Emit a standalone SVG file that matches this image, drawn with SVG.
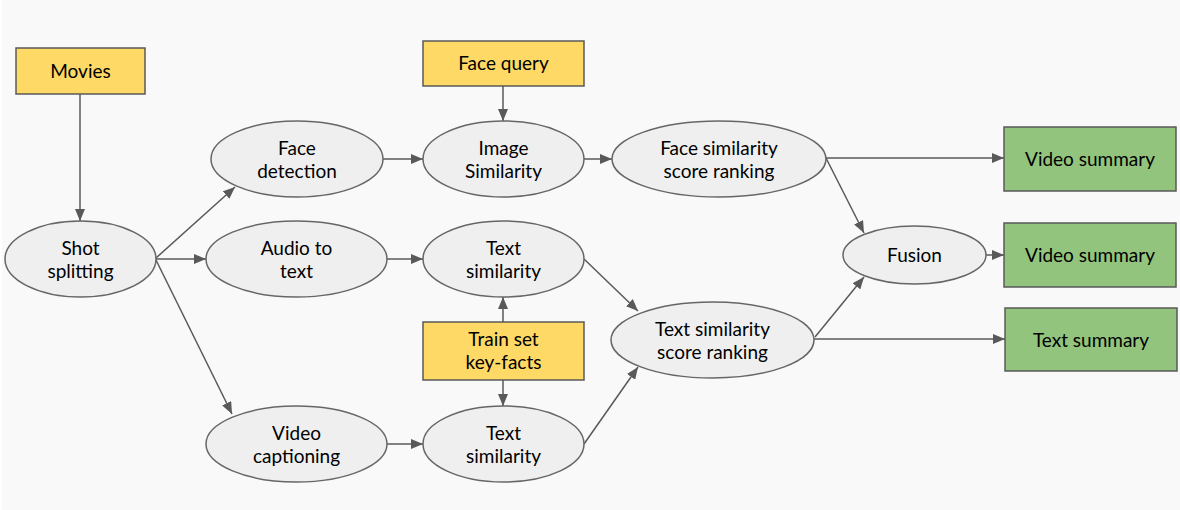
<svg xmlns="http://www.w3.org/2000/svg" width="1180" height="510" viewBox="0 0 1180 510">
  <defs>
    <marker id="arrow" viewBox="0 0 12 10" refX="12" refY="5" markerWidth="12" markerHeight="10" markerUnits="userSpaceOnUse" orient="auto">
      <path d="M0,0 L12,5 L0,10 Z" fill="#595959"/>
    </marker>
    <style>
      .bg { fill: #f9f9f9; }
      .input { fill: #ffd966; stroke: #595959; stroke-width: 1.5; }
      .step { fill: #efefef; stroke: #666666; stroke-width: 1.5; }
      .output { fill: #93c47d; stroke: #595959; stroke-width: 1.5; }
      .lbl { font-family: Lato, "Liberation Sans", sans-serif; font-size: 19px; fill: #000000; text-anchor: middle; }
      .edge { fill: none; stroke: #595959; stroke-width: 1.5; marker-end: url(#arrow); }
    </style>
  </defs>

  <rect x="0" y="0" width="1180" height="510" fill="#ffffff"/>
  <rect class="bg" x="2" y="0" width="1178" height="510"/>

  <!-- connectors -->
  <g id="connectors">
    <line class="edge" x1="80" y1="94" x2="80" y2="221"/>
    <line class="edge" x1="156" y1="258" x2="235" y2="187"/>
    <line class="edge" x1="156" y1="259" x2="206" y2="259"/>
    <line class="edge" x1="156" y1="260" x2="232" y2="414"/>
    <line class="edge" x1="383" y1="159" x2="423" y2="159"/>
    <line class="edge" x1="503" y1="86" x2="503" y2="121"/>
    <line class="edge" x1="584" y1="159" x2="612" y2="159"/>
    <line class="edge" x1="387" y1="259" x2="423" y2="259"/>
    <line class="edge" x1="503" y1="322" x2="503" y2="297"/>
    <line class="edge" x1="503" y1="380" x2="503" y2="406"/>
    <line class="edge" x1="387" y1="444" x2="423" y2="444"/>
    <line class="edge" x1="584" y1="259" x2="638" y2="311"/>
    <line class="edge" x1="584" y1="444" x2="638" y2="367"/>
    <line class="edge" x1="826" y1="158" x2="1004" y2="158"/>
    <line class="edge" x1="826" y1="158" x2="864" y2="233"/>
    <line class="edge" x1="815" y1="337" x2="864" y2="277"/>
    <line class="edge" x1="813" y1="339" x2="1005" y2="339"/>
    <line class="edge" x1="986" y1="255" x2="1004" y2="255"/>
  </g>

  <g id="movies">
    <rect class="input" x="16" y="48" width="129" height="46"/>
    <text class="lbl" x="80.5" y="78">Movies</text>
  </g>
  <g id="face-query">
    <rect class="input" x="423" y="41" width="161" height="45"/>
    <text class="lbl" x="503.5" y="70">Face query</text>
  </g>
  <g id="train-set">
    <rect class="input" x="423" y="322" width="161" height="58"/>
    <text class="lbl" x="503.5" y="345.5">Train set</text>
    <text class="lbl" x="503.5" y="368.5">key-facts</text>
  </g>

  <g id="shot-splitting">
    <ellipse class="step" cx="80.5" cy="259" rx="75.5" ry="38"/>
    <text class="lbl" x="80.5" y="254.5">Shot</text>
    <text class="lbl" x="80.5" y="277.5">splitting</text>
  </g>
  <g id="face-detection">
    <ellipse class="step" cx="297" cy="159" rx="86" ry="38"/>
    <text class="lbl" x="297" y="154.5">Face</text>
    <text class="lbl" x="297" y="177.5">detection</text>
  </g>
  <g id="audio-to-text">
    <ellipse class="step" cx="296.5" cy="259" rx="90.5" ry="38"/>
    <text class="lbl" x="296.5" y="254.5">Audio to</text>
    <text class="lbl" x="296.5" y="277.5">text</text>
  </g>
  <g id="video-captioning">
    <ellipse class="step" cx="296.5" cy="444" rx="90.5" ry="38"/>
    <text class="lbl" x="296.5" y="439.5">Video</text>
    <text class="lbl" x="296.5" y="462.5">captioning</text>
  </g>
  <g id="image-similarity">
    <ellipse class="step" cx="503.5" cy="159" rx="80.5" ry="38"/>
    <text class="lbl" x="503.5" y="154.5">Image</text>
    <text class="lbl" x="503.5" y="177.5">Similarity</text>
  </g>
  <g id="text-similarity-audio">
    <ellipse class="step" cx="503.5" cy="259" rx="80.5" ry="38"/>
    <text class="lbl" x="503.5" y="254.5">Text</text>
    <text class="lbl" x="503.5" y="277.5">similarity</text>
  </g>
  <g id="text-similarity-caption">
    <ellipse class="step" cx="503.5" cy="444" rx="80.5" ry="38"/>
    <text class="lbl" x="503.5" y="439.5">Text</text>
    <text class="lbl" x="503.5" y="462.5">similarity</text>
  </g>
  <g id="face-ranking">
    <ellipse class="step" cx="719" cy="159" rx="107" ry="38"/>
    <text class="lbl" x="719" y="154.5">Face similarity</text>
    <text class="lbl" x="719" y="177.5">score ranking</text>
  </g>
  <g id="text-ranking">
    <ellipse class="step" cx="712.5" cy="340" rx="101.5" ry="38"/>
    <text class="lbl" x="712.5" y="335.5">Text similarity</text>
    <text class="lbl" x="712.5" y="358.5">score ranking</text>
  </g>
  <g id="fusion">
    <ellipse class="step" cx="914.5" cy="255" rx="71.5" ry="29"/>
    <text class="lbl" x="914.5" y="262">Fusion</text>
  </g>

  <g id="video-summary-face">
    <rect class="output" x="1004" y="127" width="172" height="64"/>
    <text class="lbl" x="1090" y="166">Video summary</text>
  </g>
  <g id="video-summary-fusion">
    <rect class="output" x="1004" y="223" width="172" height="64"/>
    <text class="lbl" x="1090" y="262">Video summary</text>
  </g>
  <g id="text-summary">
    <rect class="output" x="1005" y="308" width="172" height="63"/>
    <text class="lbl" x="1091" y="346.5">Text summary</text>
  </g>
</svg>
